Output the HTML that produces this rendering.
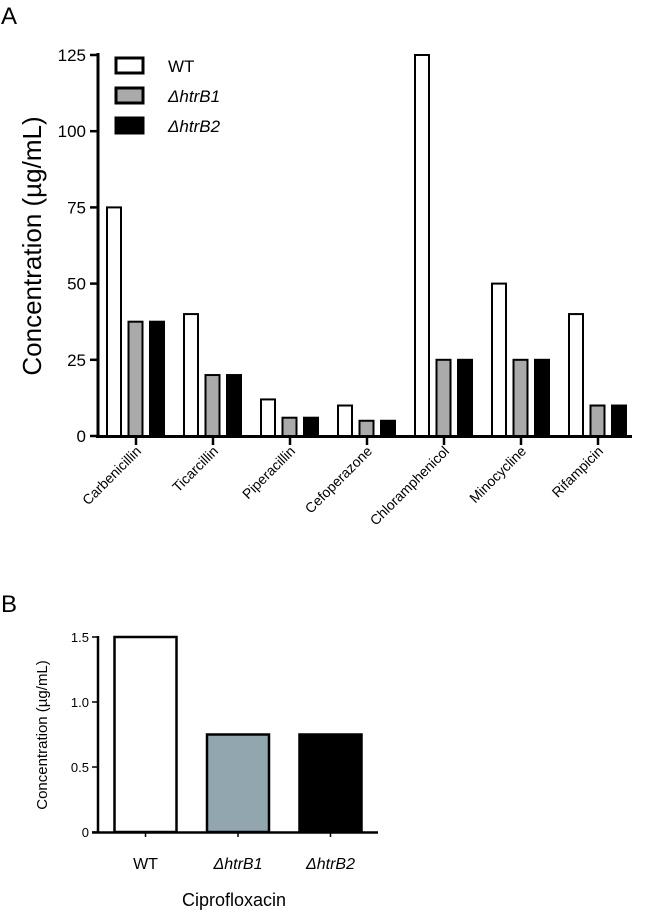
<!DOCTYPE html>
<html><head><meta charset="utf-8"><style>
body{margin:0;background:#fff;width:650px;height:915px;overflow:hidden}
svg{font-family:"Liberation Sans",Arial,sans-serif}
</style></head><body>
<svg id="s" width="650" height="915" xmlns="http://www.w3.org/2000/svg">
<text x="1" y="24" font-size="24">A</text>
<text x="1" y="612" font-size="24">B</text>
<g id="ga"></g>
<g id="gb"></g>
</svg>
<script>
const categoriesA=["Carbenicillin","Ticarcillin","Piperacillin","Cefoperazone","Chloramphenicol","Minocycline","Rifampicin"];
const wtA=[75,40,12,10,125,50,40];
const htrB1A=[37.5,20,6,5,25,25,10];
const htrB2A=[37.5,20,6,5,25,25,10];
const ticksA=[0,25,50,75,100,125];
const seriesNamesA=["WT","ΔhtrB1","ΔhtrB2"];
const categoriesB=["WT","ΔhtrB1","ΔhtrB2"];
const valuesB=[1.5,0.75,0.75];
const ticksB=[0,0.5,1.0,1.5];
const tickLabelsB=["0","0.5","1.0","1.5"];

const NS="http://www.w3.org/2000/svg";
function mk(p,t,a,txt){const e=document.createElementNS(NS,t);for(const k in a)e.setAttribute(k,a[k]);if(txt!==undefined)e.textContent=txt;p.appendChild(e);return e;}

// Chart A
const ga=document.getElementById('ga');
const yA=v=>436-v*(381/125);
const xA=i=>136+i*77;
let e=mk(ga,'line',{x1:98,y1:53,x2:98,y2:438,stroke:'#000','stroke-width':3});


e=mk(ga,'line',{x1:96,y1:436.5,x2:632,y2:436.5,stroke:'#000','stroke-width':3});


ticksA.forEach(t=>{
  e=mk(ga,'line',{x1:90,x2:98,y1:yA(t),y2:yA(t),stroke:'#000','stroke-width':2.5});
  
  
  e=mk(ga,'text',{x:86,y:yA(t)+6,'font-size':17,'text-anchor':'end'},String(t));
  
  
});
e=mk(ga,'text',{transform:'translate(41,246) rotate(-90)','font-size':26,'text-anchor':'middle'},'Concentration (µg/mL)');


const fillsA=['#fff','#aaa','#000'];
const seriesA=[wtA,htrB1A,htrB2A];
categoriesA.forEach((c,i)=>{
  const cx=xA(i);
  e=mk(ga,'line',{x1:cx,x2:cx,y1:437,y2:445,stroke:'#000','stroke-width':2.5});
  
  
  seriesA.forEach((s,j)=>{
    const bx=cx-29+j*21.5, y=yA(s[i]);
    e=mk(ga,'rect',{x:bx,y:y,width:14,height:436-y,fill:fillsA[j],stroke:'#000','stroke-width':2});
    
    
  });
  e=mk(ga,'text',{transform:`translate(${cx+6},${452}) rotate(-45)`,'font-size':14,'text-anchor':'end'},c);
  
  
});
seriesNamesA.forEach((n,j)=>{
  const y=58+j*30;
  e=mk(ga,'rect',{x:116,y:y,width:27,height:15,fill:fillsA[j],stroke:'#000','stroke-width':3});
  
  
  e=mk(ga,'text',{x:168,y:y+14,'font-size':17,'font-style':j?'italic':'normal'},n);
  
  
});

// Chart B
const gb=document.getElementById('gb');
const yB=v=>832-v*130;
const xB=i=>145.5+i*92.5;
e=mk(gb,'line',{x1:98,y1:636,x2:98,y2:833,stroke:'#000','stroke-width':2.5});


e=mk(gb,'line',{x1:92,y1:832.5,x2:378,y2:832.5,stroke:'#000','stroke-width':2.5});


ticksB.forEach((t,k)=>{
  e=mk(gb,'line',{x1:92,x2:98,y1:yB(t),y2:yB(t),stroke:'#000','stroke-width':1.5});
  
  
  e=mk(gb,'text',{x:89,y:yB(t)+5,'font-size':13,'text-anchor':'end'},tickLabelsB[k]);
  
  
});
e=mk(gb,'text',{transform:'translate(47,735) rotate(-90)','font-size':15,'text-anchor':'middle'},'Concentration (µg/mL)');


const fillsB=['#fff','#92a6b0','#000'];
categoriesB.forEach((c,i)=>{
  const cx=xB(i), y=yB(valuesB[i]);
  e=mk(gb,'rect',{x:cx-31,y:y,width:62,height:832-y,fill:fillsB[i],stroke:'#000','stroke-width':2.5});
  
  
  e=mk(gb,'line',{x1:cx,x2:cx,y1:833,y2:837,stroke:'#000','stroke-width':1.5});
  
  
  e=mk(gb,'text',{x:cx,y:869,'font-size':16,'text-anchor':'middle','font-style':i?'italic':'normal'},c);
  
  
});
e=mk(gb,'text',{x:234,y:906,'font-size':18,'text-anchor':'middle'},'Ciprofloxacin');


</script>
</body></html>
